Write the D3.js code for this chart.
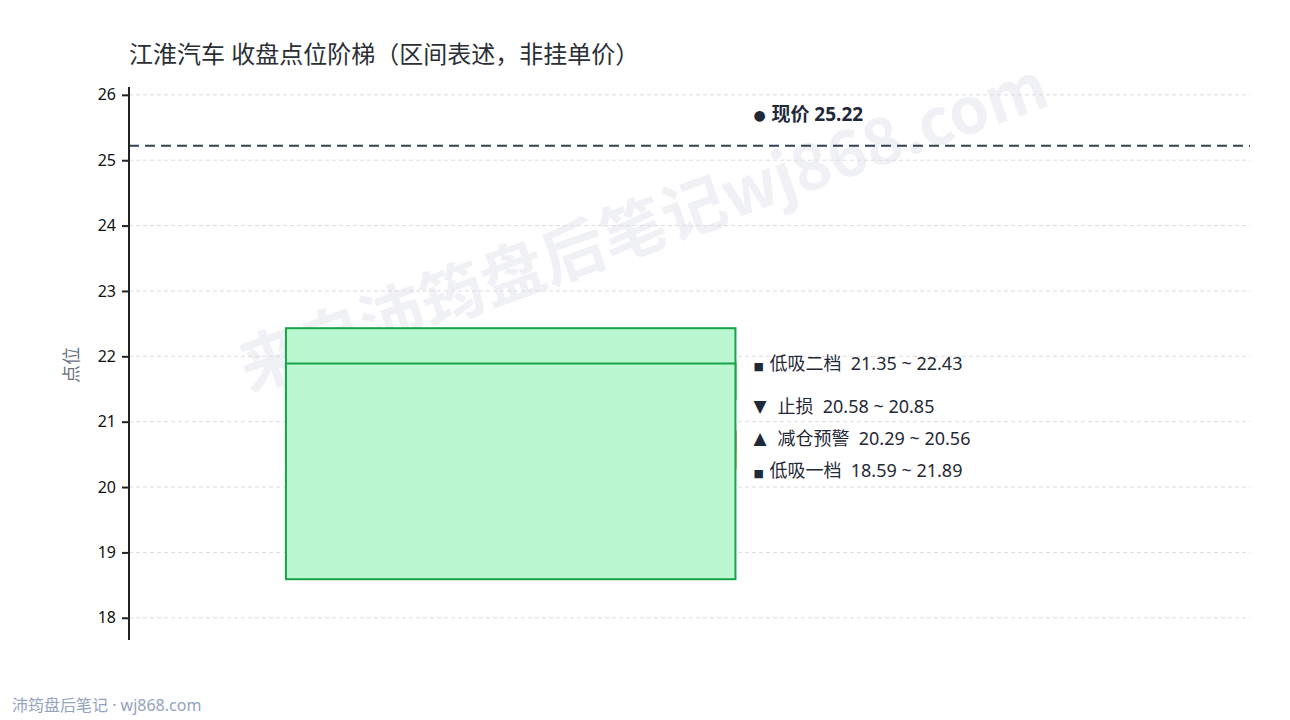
<!DOCTYPE html>
<html><head><meta charset="utf-8">
<script src="https://cdn.jsdelivr.net/npm/d3@7/dist/d3.min.js"></script>
<style>body{margin:0;background:#fff;}svg{display:block;font-family:"Noto Sans","Noto Sans CJK SC",sans-serif;}text{white-space:pre;}</style>
</head><body>
<svg id="c" width="1290" height="720"></svg>
<script>
const title = "江淮汽车 收盘点位阶梯（区间表述，非挂单价）";
const zoneNames = ["低吸二档", "止损", "减仓预警", "低吸一档"];
const zoneLow   = [21.35, 20.58, 20.29, 18.59];
const zoneHigh  = [22.43, 20.85, 20.56, 21.89];
const zoneMarks = ["■", "▼", "▲", "■"];
const zoneFill  = ["#bbf7d0", "#fecaca", "#fde68a", "#bbf7d0"];
const zoneStroke= ["#16a34a", "#dc2626", "#d97706", "#16a34a"];
const currentPrice = 25.22;
const yTicks = [18, 19, 20, 21, 22, 23, 24, 25, 26];
const yDomain = [17.66, 26.12];

const svg = d3.select("#c");
const L = 129, R = 1250, T = 87, B = 640;
const y = d3.scaleLinear().domain(yDomain).range([B, T]);
const x = d3.scaleLinear().domain([0, 1]).range([L, R]);
const labelX = x(0.557);

// watermark
svg.append("text").attr("transform", "translate(645,232) rotate(-19.7)")
  .attr("text-anchor", "middle").attr("dominant-baseline", "middle")
  .attr("font-family", "'Noto Sans CJK SC',sans-serif")
  .attr("font-size", 64).attr("font-weight", "bold").attr("fill", "#e9ebf1").attr("fill-opacity", 0.7)
  .text("来自沛筠盘后笔记wj868.com");

// grid
svg.append("g").selectAll("line").data(yTicks).join("line")
  .attr("x1", L).attr("x2", R).attr("y1", d => y(d)).attr("y2", d => y(d))
  .attr("stroke", "#dcdcdc").attr("stroke-width", 1).attr("stroke-dasharray", "4,3");

// zones (drawn in order; 低吸一档 last on top)
svg.append("g").selectAll("rect").data(zoneNames).join("rect")
  .attr("x", x(0.14)).attr("width", x(0.541) - x(0.14))
  .attr("y", (d, i) => y(zoneHigh[i])).attr("height", (d, i) => y(zoneLow[i]) - y(zoneHigh[i]))
  .attr("fill", (d, i) => zoneFill[i]).attr("stroke", (d, i) => zoneStroke[i]).attr("stroke-width", 2);

// current price line
svg.append("line").attr("x1", L).attr("x2", R).attr("y1", y(currentPrice)).attr("y2", y(currentPrice))
  .attr("stroke", "#334155").attr("stroke-width", 2).attr("stroke-dasharray", "10,6");
const cpY = y(currentPrice) - 32 + 7;
const cp = svg.append("text").attr("y", cpY)
  .attr("font-size", 19).attr("font-weight", "bold").attr("fill", "#1f2937");
cp.append("tspan").attr("x", labelX).attr("font-family", "'DejaVu Sans',sans-serif").attr("font-size", 14).attr("font-weight", "normal").attr("dy", -1).text("●");
cp.append("tspan").attr("x", labelX + 18).attr("dy", 1).text("现价 " + currentPrice.toFixed(2));

// zone labels with collision avoidance
const labels = zoneNames.map((n, i) => ({ i, ty: y((zoneLow[i] + zoneHigh[i]) / 2) }))
  .sort((a, b) => b.ty - a.ty);
for (let k = 1; k < labels.length; k++) {
  if (labels[k - 1].ty - labels[k].ty < 32) labels[k].ty = labels[k - 1].ty - 32;
}
const lt = svg.append("g").selectAll("text").data(labels).join("text")
  .attr("y", d => d.ty + 6)
  .attr("font-size", 18).attr("fill", "#1f2937");
lt.append("tspan").attr("x", labelX).attr("font-family", "'DejaVu Sans',sans-serif")
  .attr("dy", d => zoneMarks[d.i] === "■" ? 0 : -1)
  .attr("font-size", d => zoneMarks[d.i] === "■" ? 11 : 17).text(d => zoneMarks[d.i]);
lt.append("tspan").attr("x", d => labelX + (zoneMarks[d.i] === "■" ? 16 : 24))
  .attr("dy", d => zoneMarks[d.i] === "■" ? 0 : 1)
  .text(d => zoneNames[d.i] + "  " + zoneLow[d.i].toFixed(2) + " ~ " + zoneHigh[d.i].toFixed(2));

// y axis
const ax = svg.append("g").attr("transform", `translate(${L},0)`)
  .call(d3.axisLeft(y).tickValues(yTicks).tickSize(7).tickPadding(6).tickFormat(d3.format("d")));
ax.select(".domain").attr("stroke", "#222").attr("stroke-width", 2).attr("d", `M0,${T}V${B}`);
ax.selectAll(".tick line").attr("stroke", "#222").attr("stroke-width", 2);
ax.selectAll(".tick text").attr("font-size", 16).attr("fill", "#111")
  .attr("font-family", "'Noto Sans',sans-serif");

svg.append("text").attr("transform", "translate(73,365) rotate(-90)").attr("text-anchor", "middle")
  .attr("dominant-baseline", "middle").attr("font-size", 18).attr("fill", "#6b7280").text("点位");

// title
svg.append("text").attr("x", 129).attr("y", 57).attr("dominant-baseline", "middle")
  .attr("font-size", 24).attr("fill", "#2b2f36").text(title);

// footer
svg.append("text").attr("x", 12).attr("y", 707).attr("dominant-baseline", "middle")
  .attr("font-size", 16).attr("fill", "#94a3c0").text("沛筠盘后笔记 · wj868.com");
</script>
</body></html>
